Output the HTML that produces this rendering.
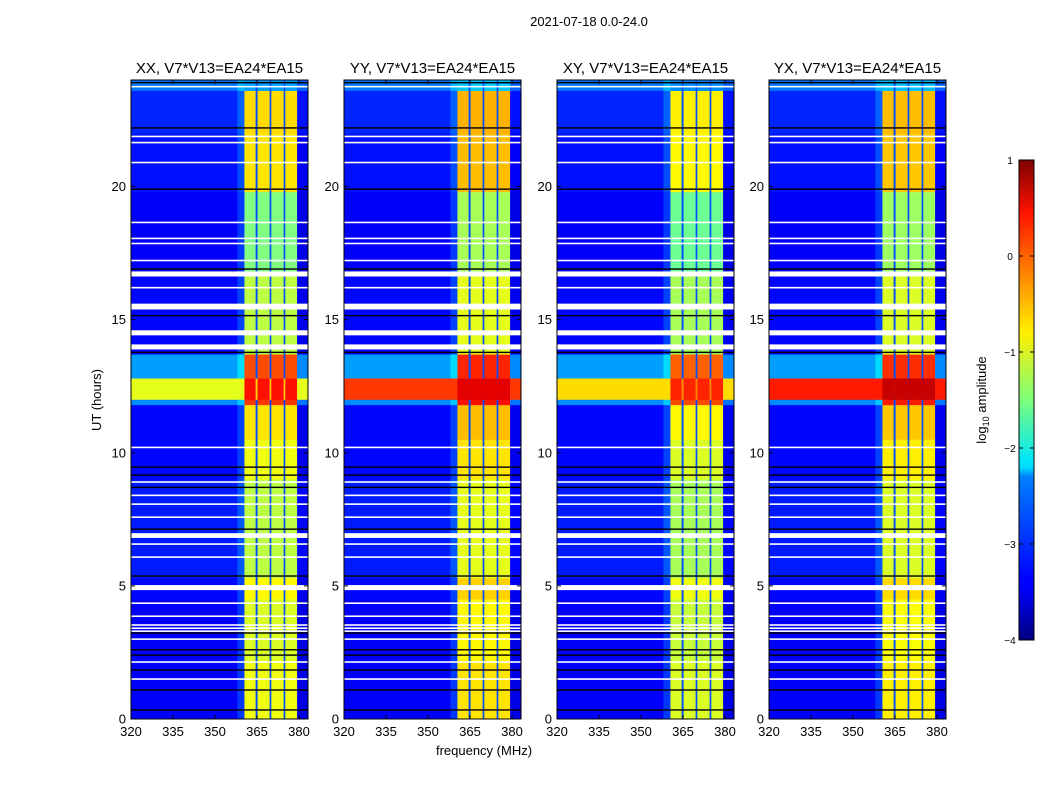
<!DOCTYPE html>
<html><head><meta charset="utf-8">
<style>
body{margin:0;background:#fff;font-family:"Liberation Sans",sans-serif;}
svg text{font-family:"Liberation Sans","DejaVu Sans",sans-serif;}
</style></head>
<body>
<svg id="fig" width="1050" height="800" viewBox="0 0 1050 800" xmlns="http://www.w3.org/2000/svg">
<rect width="1050" height="800" fill="#fff"/>
<text x="589" y="26" font-size="13" text-anchor="middle">2021-07-18 0.0-24.0</text>
<text x="484" y="755" font-size="13" text-anchor="middle">frequency (MHz)</text>
<text x="101" y="400" font-size="13" text-anchor="middle" transform="rotate(-90 101 400)">UT (hours)</text>
<defs>
<linearGradient id="jet" x1="0" y1="1" x2="0" y2="0">
<stop offset="0" stop-color="#00007f"/><stop offset="0.11" stop-color="#0000ff"/><stop offset="0.125" stop-color="#0000ff"/>
<stop offset="0.34" stop-color="#0080ff"/><stop offset="0.36" stop-color="#00ddff"/>
<stop offset="0.375" stop-color="#00e5f8"/><stop offset="0.5" stop-color="#7dff7a"/><stop offset="0.64" stop-color="#ffee00"/>
<stop offset="0.66" stop-color="#ffe000"/><stop offset="0.89" stop-color="#ff1300"/><stop offset="1" stop-color="#7f0000"/>
</linearGradient>
</defs>
<g id="panels"></g>
<g id="cbar">
<rect x="1019" y="160" width="15" height="480" fill="url(#jet)" stroke="#000" stroke-width="1"/>
</g>
<text x="986" y="400" font-size="13" text-anchor="middle" transform="rotate(-90 986 400)">log<tspan font-size="9" dy="3">10</tspan><tspan dy="-3"> amplitude</tspan></text>
</svg>
<script>
// ---- data ----
const panelTitles = ["XX, V7*V13=EA24*EA15","YY, V7*V13=EA24*EA15","XY, V7*V13=EA24*EA15","YX, V7*V13=EA24*EA15"];
const segStarts = [0,2.2,4.5,5.3,9,10.5,11.8,12.0,12.8,13.7,16.7,19.8,22,23.6];
const segEnds   = [2.2,4.5,5.3,9,10.5,11.8,12.0,12.8,13.7,16.7,19.8,22,23.6,24];
const bandLevels = [-0.95,-1.05,-0.85,-1.2,-0.95,-0.75,0.1,0.3,0.0,-1.2,-1.5,-0.75,-0.7,-2.6];
const bgLevels = [-3.4,-3.4,-3.35,-3.25,-3.35,-3.35,-2.7,-1.0,-2.6,-3.35,-3.4,-3.3,-3.2,-2.8];
const panelBandOffset = [0,0.2,-0.1,0.15];
const panelRfiLevel = [-1.0,0.1,-0.7,0.25];
const freqStarts = [320,358,360.5,364.5,365.2,369.5,370.1,374.5,375.1,379.3];
const freqEnds   = [358,360.5,364.5,365.2,369.5,370.1,374.5,375.1,379.3,383.2];
const freqKinds  = ["bg","edge","band","gap","band","gap","band","gap","band","bg"];
const flagStarts = [23.72,21.85,21.62,20.87,18.62,18.02,17.83,17.19,16.62,16.17,15.38,14.41,13.88,10.17,8.87,8.37,8.04,7.55,6.8,6.54,6.05,4.84,4.32,3.83,3.5,3.38,3.27,2.97,2.11,1.47];
const flagEnds   = [23.78,21.91,21.68,20.93,18.68,18.08,17.89,17.25,16.81,16.23,15.6,14.6,14.07,10.23,8.93,8.43,8.1,7.61,6.98,6.6,6.11,5.03,4.38,3.89,3.56,3.44,3.33,3.03,2.17,1.53];
const blackLines = [23.9,22.2,19.9,16.9,15.15,13.77,9.46,9.16,8.7,7.13,5.37,3.23,2.6,2.4,1.84,1.09,0.34];
const xTicks = [320,335,350,365,380];
const yTicks = [0,5,10,15,20];
const cbTicks = [1,0,-1,-2,-3,-4];
const cbLabels = ["1","0","\u22121","\u22122","\u22123","\u22124"];

// ---- layout ----
const NS="http://www.w3.org/2000/svg";
const panelLefts=[131,344,557,769], PW=177, PT=80, PB=719;
const fMin=320,fMax=383.2,tMin=0,tMax=24;
function jet(v){
  let t=Math.max(0,Math.min(1,(v+4)/5));
  function c(x){return Math.max(0,Math.min(1,x));}
  const r=c(1.5-Math.abs(4*t-3)), g=c(1.5-Math.abs(4*t-2)), b=c(1.5-Math.abs(4*t-1));
  return `rgb(${Math.round(r*255)},${Math.round(g*255)},${Math.round(b*255)})`;
}
function mk(tag,attrs,parent){const e=document.createElementNS(NS,tag);for(const k in attrs)e.setAttribute(k,attrs[k]);parent.appendChild(e);return e;}
const root=document.getElementById('panels');
panelLefts.forEach((L,p)=>{
  const xs=f=>L+(f-fMin)/(fMax-fMin)*PW;
  const ys=t=>PB-(t-tMin)/(tMax-tMin)*(PB-PT);
  const g=mk('g',{},root);
  
  
  segStarts.forEach((s,i)=>{
    freqStarts.forEach((f,j)=>{
      let v;
      const k=freqKinds[j];
      if(k==="band") v=bandLevels[i]+panelBandOffset[p];
      else if(k==="gap") v=-3.0;
      else if(k==="edge") v=bgLevels[i]+0.3;
      else v=bgLevels[i];
      if(i===7){ if(k==="bg"||k==="edge") v=panelRfiLevel[p]; else v=Math.max(v,panelRfiLevel[p]+0.4); }
      if(j===9 && i!==7) v=bgLevels[i]-0.1;
      const r=mk('rect',{x:xs(f),y:ys(segEnds[i]),width:xs(freqEnds[j])-xs(f)+0.3,height:ys(s)-ys(segEnds[i])+0.3,fill:jet(v)},g);
      
      
    });
  });
  flagStarts.forEach((s,i)=>{
    const r=mk('rect',{x:L,y:ys(flagEnds[i]),width:PW,height:Math.max(1.5,ys(s)-ys(flagEnds[i])),fill:'#fff'},g);
    
    
  });
  blackLines.forEach(t=>{
    const r=mk('rect',{x:L,y:ys(t)-0.7,width:PW,height:1.4,fill:'#000'},g);
    
    
  });
  const fr=mk('rect',{x:L,y:PT,width:PW,height:PB-PT,fill:'none',stroke:'#000','stroke-width':1},g);
  
  
  const tt=mk('text',{x:L+PW/2,y:PT-7,'font-size':15,'text-anchor':'middle'},g);
  tt.textContent=panelTitles[p];
  
  
  xTicks.forEach(f=>{
    const x=xs(f);
    mk('line',{x1:x,x2:x,y1:PB,y2:PB-4,stroke:'#000'},g);
    mk('line',{x1:x,x2:x,y1:PT,y2:PT+4,stroke:'#000'},g);
    const t=mk('text',{x:x,y:PB+17,'font-size':13,'text-anchor':'middle'},g);
    t.textContent=f;
    
    
  });
  yTicks.forEach(v=>{
    const y=ys(v);
    mk('line',{x1:L,x2:L+4,y1:y,y2:y,stroke:'#000'},g);
    mk('line',{x1:L+PW,x2:L+PW-4,y1:y,y2:y,stroke:'#000'},g);
    const t=mk('text',{x:L-5,y:y+4.5,'font-size':13,'text-anchor':'end'},g);
    t.textContent=v;
    
    
  });
});
const cb=document.getElementById('cbar');
cbTicks.forEach((v,i)=>{
  const y=640-(v+4)/5*480;
  mk('line',{x1:1019,x2:1023,y1:y,y2:y,stroke:'#000'},cb);
  mk('line',{x1:1034,x2:1030,y1:y,y2:y,stroke:'#000'},cb);
  const t=mk('text',{x:1010,y:y+4,'font-size':10,'text-anchor':'middle'},cb);
  t.textContent=cbLabels[i];
  
  
});
</script>
</body></html>
